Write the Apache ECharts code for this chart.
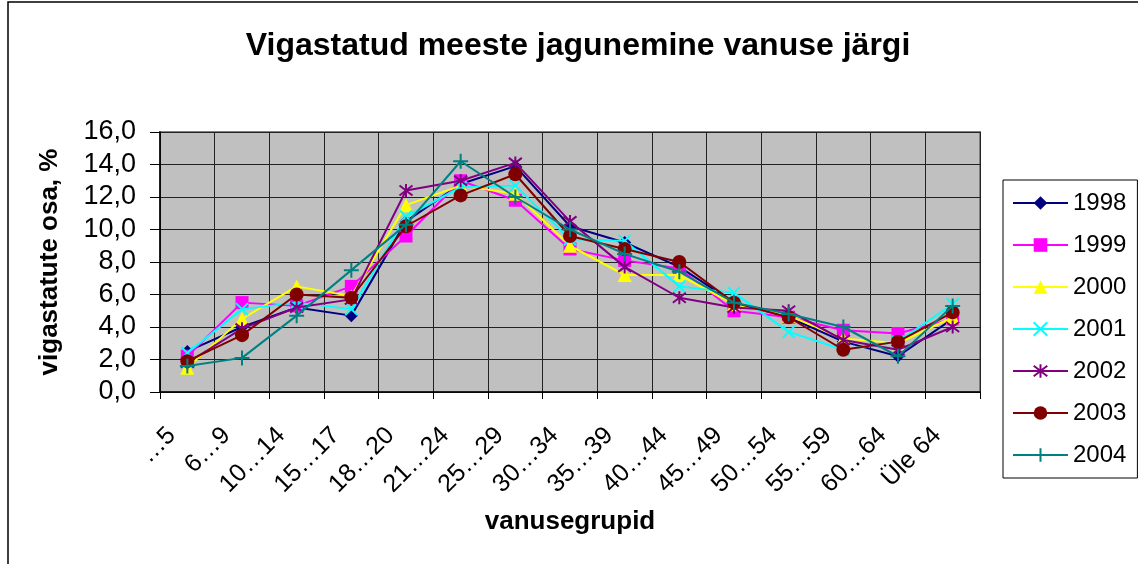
<!DOCTYPE html>
<html>
<head>
<meta charset="utf-8">
<script src="https://cdn.jsdelivr.net/npm/echarts@6/dist/echarts.min.js"></script>
<style>
html,body{margin:0;padding:0;background:#fff;}
#chart{width:1138px;height:564px;}
</style>
</head>
<body>
<div id="chart"></div>
<script>
const categories = ['…5','6…9','10…14','15…17','18…20','21…24','25…29','30…34','35…39','40…44','45…49','50…54','55…59','60…64','Üle 64'];
const years = ['1998','1999','2000','2001','2002','2003','2004'];
const s1998 = [2.5, 4.0, 5.2, 4.7, 10.5, 12.8, 13.9, 10.2, 9.2, 7.7, 5.5, 4.6, 3.1, 2.2, 4.5];
const s1999 = [2.2, 5.5, 5.3, 6.5, 9.6, 13.0, 11.8, 8.8, 8.1, 7.6, 5.0, 4.6, 3.8, 3.6, 4.5];
const s2000 = [1.5, 4.5, 6.5, 5.9, 11.5, 12.7, 12.2, 9.0, 7.2, 7.2, 5.4, 4.7, 3.3, 3.0, 4.6];
const s2001 = [2.4, 5.1, 5.5, 5.1, 10.8, 12.6, 12.7, 9.4, 9.3, 6.5, 6.1, 3.7, 2.6, 3.1, 5.4];
const s2002 = [1.8, 3.9, 5.2, 5.7, 12.4, 13.0, 14.1, 10.5, 7.7, 5.8, 5.2, 5.0, 3.2, 2.6, 4.0];
const s2003 = [1.9, 3.5, 6.0, 5.8, 10.2, 12.1, 13.4, 9.6, 8.8, 8.0, 5.5, 4.6, 2.6, 3.1, 4.9];
const s2004 = [1.6, 2.1, 4.7, 7.5, 10.3, 14.2, 12.0, 10.0, 8.5, 7.4, 5.5, 4.8, 4.0, 2.2, 5.3];
const yTicks = [0, 2, 4, 6, 8, 10, 12, 14, 16];

const seriesData = [s1998, s1999, s2000, s2001, s2002, s2003, s2004];
const colors = ['#000080', '#FF00FF', '#FFFF00', '#00FFFF', '#800080', '#800000', '#008080'];
const symbols = [
  {symbol: 'diamond', size: 13, stroke: 0},
  {symbol: 'rect', size: 13, stroke: 0},
  {symbol: 'triangle', size: 14, stroke: 0},
  {symbol: 'path://M0,0L10,10M10,0L0,10', size: 12, stroke: 2},
  {symbol: 'path://M0,0L10,10M10,0L0,10M5,-1.5L5,11.5', size: 13, stroke: 2},
  {symbol: 'circle', size: 14, stroke: 0},
  {symbol: 'path://M5,0L5,10M0,5L10,5', size: 15, stroke: 2}
];

const FONT = 'Arial, "Liberation Sans", sans-serif';

const series = years.map((y, i) => ({
  name: y,
  type: 'line',
  data: seriesData[i],
  symbol: symbols[i].symbol,
  symbolSize: symbols[i].size,
  showAllSymbol: true,
  lineStyle: {color: colors[i], width: 2},
  itemStyle: {color: colors[i], borderColor: colors[i], borderWidth: symbols[i].stroke},
  emphasis: {disabled: true},
  z: 3 + i
}));

const chart = echarts.init(document.getElementById('chart'), null, {renderer: 'canvas'});
chart.setOption({
  animation: false,
  backgroundColor: '#fff',
  textStyle: {fontFamily: FONT},
  title: {
    text: 'Vigastatud meeste jagunemine vanuse järgi',
    left: 578,
    top: 30,
    textAlign: 'center',
    padding: 0,
    textStyle: {fontFamily: FONT, fontSize: 32, fontWeight: 'bold', color: '#000'}
  },
  graphic: [{
    type: 'rect',
    shape: {x: 8, y: 2, width: 1300, height: 700},
    style: {fill: 'none', stroke: '#000', lineWidth: 1.5},
    silent: true,
    z: -1
  }],
  legend: {
    orient: 'vertical',
    left: 1003,
    top: 180,
    padding: [11, 11, 11, 9],
    itemWidth: 55,
    itemHeight: 17,
    itemGap: 18,
    borderColor: '#000',
    borderWidth: 1,
    backgroundColor: '#fff',
    textStyle: {fontFamily: FONT, fontSize: 24, color: '#000'},
    data: years
  },
  grid: {
    left: 160, top: 132, width: 820, height: 260,
    show: true,
    backgroundColor: '#C0C0C0',
    borderColor: '#808080',
    borderWidth: 2
  },
  xAxis: {
    type: 'category',
    data: categories,
    boundaryGap: true,
    name: 'vanusegrupid',
    nameLocation: 'middle',
    nameGap: 117,
    nameTextStyle: {fontFamily: FONT, fontSize: 26, fontWeight: 'bold', color: '#000'},
    axisLine: {show: true, lineStyle: {color: '#000', width: 1.5}},
    axisTick: {show: true, length: 7, interval: 0, lineStyle: {color: '#000', width: 1}},
    splitLine: {show: true, interval: 0, lineStyle: {color: '#222', width: 1}},
    axisLabel: {
      interval: 0, rotate: 45, margin: 24, padding: [0, 22, 0, 0],
      fontFamily: FONT, fontSize: 25, color: '#000'
    }
  },
  yAxis: {
    type: 'value',
    min: yTicks[0],
    max: yTicks[yTicks.length - 1],
    interval: 2,
    name: 'vigastatute osa, %',
    nameLocation: 'middle',
    nameGap: 97,
    nameTextStyle: {fontFamily: FONT, fontSize: 26, fontWeight: 'bold', color: '#000'},
    axisLine: {show: true, lineStyle: {color: '#000', width: 1.5}},
    axisTick: {show: true, length: 10, lineStyle: {color: '#000', width: 1}},
    splitLine: {show: true, lineStyle: {color: '#222', width: 1}},
    axisLabel: {
      margin: 24, fontFamily: FONT, fontSize: 27, color: '#000',
      formatter: v => v.toFixed(1).replace('.', ',')
    }
  },
  series: series
});
</script>
</body>
</html>
